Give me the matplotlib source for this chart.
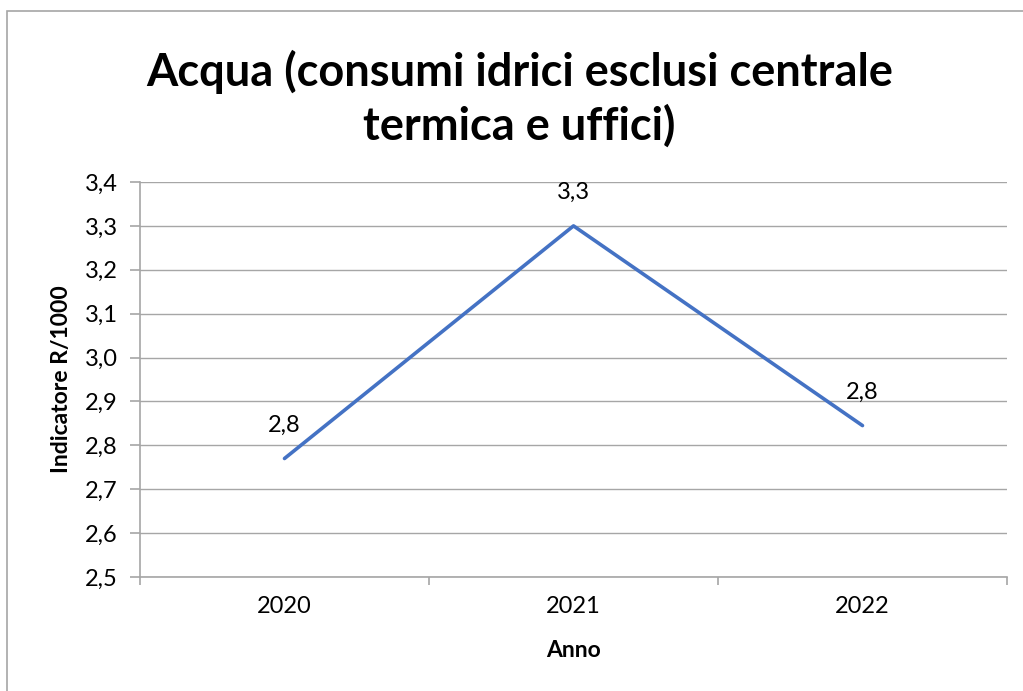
import numpy as np
import matplotlib.pyplot as plt
from matplotlib.patches import Rectangle
from matplotlib.ticker import FuncFormatter

anni = ['2020', '2021', '2022']
valori = [2.77, 3.30, 2.845]
etichette = ['2,8', '3,3', '2,8']

plt.rcParams['font.family'] = ['Lato', 'DejaVu Sans']

fig = plt.figure(figsize=(10.23, 6.91), dpi=100)
ax = fig.add_axes([140 / 1023, 1 - 577 / 691, 867 / 1023, 395 / 691])

x = np.arange(len(anni))
ax.plot(x, valori, color='#4472C4', lw=2.6, solid_capstyle='round')
for xi, v, t in zip(x, valori, etichette):
    ax.annotate(t, (xi, v), xytext=(0, 24), textcoords='offset points',
                ha='center', va='center', fontsize=17)

ax.set_xlim(-0.5, 2.5)
ax.set_ylim(2.5, 3.4)
ax.set_yticks(np.arange(2.5, 3.41, 0.1))
ax.yaxis.set_major_formatter(FuncFormatter(lambda v, p: f'{v:.1f}'.replace('.', ',')))
ax.set_xticks([-0.5, 0.5, 1.5, 2.5])
ax.set_xticklabels([])
ax.set_xticks(x, minor=True)
ax.set_xticklabels(anni, minor=True)
ax.tick_params(axis='x', which='minor', length=0, pad=14, labelsize=17)
ax.tick_params(axis='x', which='major', length=6, color='#a6a6a6', width=1.2)
ax.tick_params(axis='y', length=7, color='#a6a6a6', width=1.2, labelsize=17, pad=9)
ax.grid(axis='y', color='#a6a6a6', lw=1)
ax.set_axisbelow(True)
for s in ['top', 'right']:
    ax.spines[s].set_visible(False)
for s in ['left', 'bottom']:
    ax.spines[s].set_color('#a6a6a6')
    ax.spines[s].set_linewidth(1.2)

ax.set_xlabel('Anno', fontsize=16.5, fontweight='bold', labelpad=16)
ax.set_ylabel('Indicatore R/1000', fontsize=16.5, fontweight='bold', labelpad=9)

fig.text(0.508, 1 - 99 / 691, 'Acqua (consumi idrici esclusi centrale\ntermica e uffici)',
         ha='center', va='center', fontsize=32.5, fontweight='bold', linespacing=1.3)

fig.patches.append(Rectangle((7 / 1023, -0.1), 1.2, 1 - 11 / 691 + 0.1,
                             transform=fig.transFigure, fill=False,
                             edgecolor='#a6a6a6', lw=1.2))

fig.savefig('out.png', dpi=100)
